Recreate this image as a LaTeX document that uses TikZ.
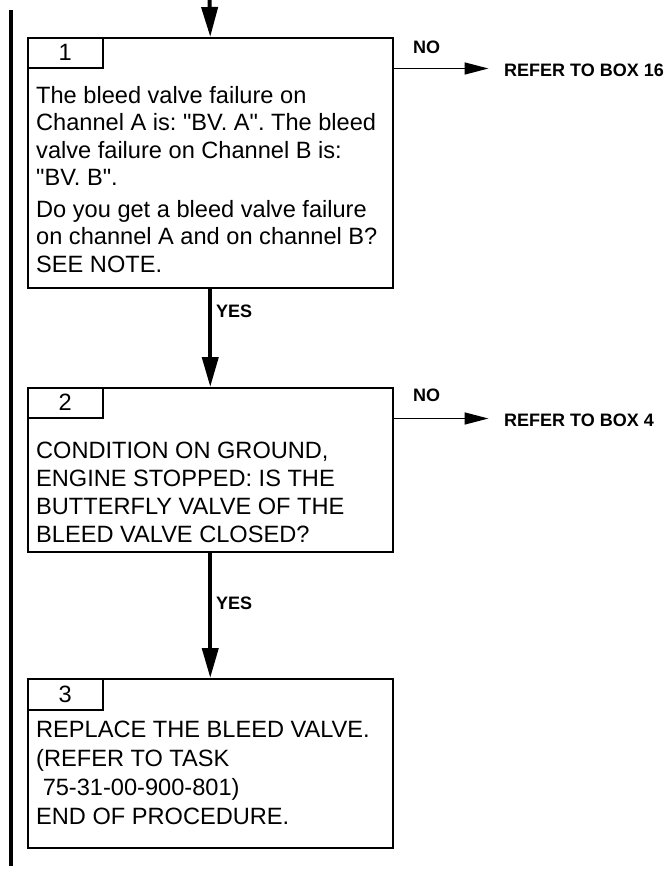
\documentclass[tikz,border=0pt]{standalone}
\usepackage{fontspec}
\setmainfont{Liberation Sans}[Ligatures=TeXOff]
\usetikzlibrary{arrows.meta}
\frenchspacing

\tikzset{
  box/.style={draw,line width=1.5pt,inner sep=0pt,anchor=north west},
  tab/.style={draw,line width=1.5pt,inner sep=0pt,anchor=north west,
    minimum width=75pt,font=\fontsize{23.6}{26}\selectfont},
  txt/.style={anchor=base west,align=left,inner sep=0pt},
  lbl/.style={anchor=west,inner sep=0pt,font=\bfseries\fontsize{18}{20}\selectfont},
  flow/.style={line width=4pt,-{Triangle[length=30pt,width=16pt]}},
  noflow/.style={line width=1.5pt,-{Triangle[length=24pt,width=12pt]}}
}

\begin{document}
\begin{tikzpicture}[x=1pt,y=-1pt]
\useasboundingbox (0,0) rectangle (671,870);
% margin bar
\draw[line width=4pt] (11,10) -- (11,866);

% boxes
\node[box,minimum width=365pt,minimum height=250pt] (box1) at (27,37) {};
\node[tab,minimum height=30pt] (tab1) at (box1.north west) {1};
\node[box,minimum width=365pt,minimum height=164pt] (box2) at (27,387) {};
\node[tab,minimum height=30pt] (tab2) at (box2.north west) {2};
\node[box,minimum width=365pt,minimum height=169pt] (box3) at (27,678) {};
\node[tab,minimum height=31pt] (tab3) at (box3.north west) {3};

% box texts (placed on their last baseline)
\node[txt,font=\fontsize{23.6}{27.5}\selectfont] (text1a) at (36,185.5)
  {The bleed valve failure on\\Channel A is: "BV. A". The bleed\\valve failure on Channel B is:\\"BV. B".};
\node[txt,font=\fontsize{23.6}{27.5}\selectfont] (text1b) at (36,272)
  {Do you get a bleed valve failure\\on channel A and on channel B?\\SEE NOTE.};
\node[txt,font=\fontsize{23.6}{28}\selectfont] (text2) at (36,542)
  {CONDITION ON GROUND,\\ENGINE STOPPED: IS THE\\BUTTERFLY VALVE OF THE\\BLEED VALVE CLOSED?};
\node[txt,font=\fontsize{23.6}{29}\selectfont] (text3) at (36,824)
  {REPLACE THE BLEED VALVE.\\(REFER TO TASK\\\ 75-31-00-900-801)\\END OF PROCEDURE.};

% connectors
\coordinate (entry) at (209.5,0);
\draw[flow] (entry) -- (box1.north);
\draw[flow] (box1.south) -- (box2.north);
\draw[flow] (box2.south) -- (box3.north);
\node[lbl] (yes1) at (216,311) {YES};
\node[lbl] (yes2) at (216,603) {YES};

\path (box1.east |- tab1.south) ++(95,0) coordinate (out1);
\path (box2.east |- tab2.south) ++(95,0) coordinate (out2);
\draw[noflow] (box1.east |- tab1.south) -- (out1);
\draw[noflow] (box2.east |- tab2.south) -- (out2);
\node[lbl] (no1) at (413,47) {NO};
\node[lbl] (no2) at (413,395) {NO};
\node[lbl] (ref1) at (504,70) {REFER TO BOX 16};
\node[lbl] (ref2) at (504,420) {REFER TO BOX 4};
\end{tikzpicture}
\end{document}
